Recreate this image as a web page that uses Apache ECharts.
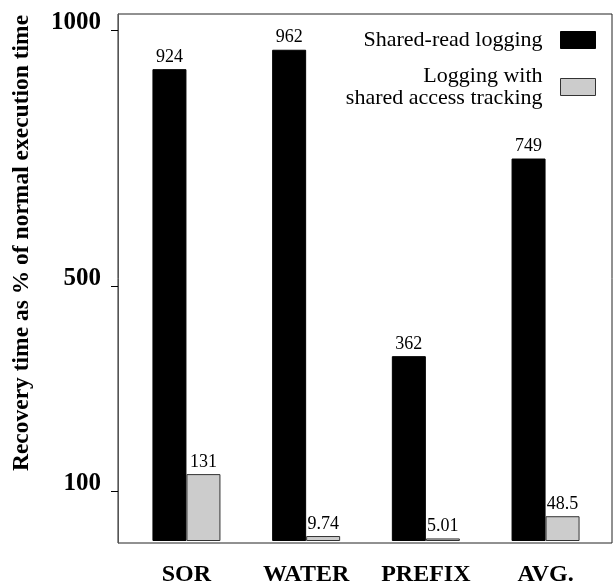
<!DOCTYPE html>
<html>
<head>
<meta charset="utf-8">
<script src="https://cdn.jsdelivr.net/npm/echarts@6/dist/echarts.min.js"></script>
<style>html,body{margin:0;padding:0;background:#fff;}#c{width:614px;height:587px;}</style>
</head>
<body>
<div id="c"></div>
<script>
var categories = ['SOR', 'WATER', 'PREFIX', 'AVG.'];
var seriesNames = ['Shared-read logging', 'Logging with\nshared access tracking'];
var sharedRead = [924, 962, 362, 749];
var tracking = [131, 9.74, 5.01, 48.5];
var yTicks = [100, 500, 1000];
var yTitle = 'Recovery time as % of normal execution time';

var FONT = '"Liberation Serif", "Times New Roman", serif';
var chart = echarts.init(document.getElementById('c'), null, {renderer: 'canvas'});
var yMax = 1032;
chart.setOption({
  animation: false,
  backgroundColor: '#fff',
  grid: [
    {left: 118, right: 2, top: 14, bottom: 44, show: true, borderColor: '#222', borderWidth: 1, backgroundColor: 'transparent'},
    {left: 126.6, right: 8.6, top: 14, bottom: 44}
  ],
  xAxis: [
    {type: 'category', gridIndex: 0, data: categories, show: false},
    {type: 'category', gridIndex: 1, data: categories,
     axisLine: {show: false}, axisTick: {show: false},
     axisLabel: {margin: 22, fontFamily: FONT, fontWeight: 'bold', fontSize: 24, color: '#000'}}
  ],
  yAxis: [
    {type: 'value', gridIndex: 0, min: 0, max: yMax,
     axisLine: {show: true, lineStyle: {color: '#555', width: 1}},
     axisTick: {show: true, customValues: yTicks, length: 7, lineStyle: {color: '#000'}},
     axisLabel: {customValues: yTicks, margin: 17, fontFamily: FONT, fontWeight: 'bold', fontSize: 25, color: '#000',
                 verticalAlign: 'bottom', lineHeight: 16,
                 formatter: function (v) { return String(v); }},
     splitLine: {show: false}},
    {type: 'value', gridIndex: 1, min: 0, max: yMax, show: false, splitLine: {show: false}}
  ],
  legend: {
    orient: 'vertical', align: 'right', right: 18, top: 29, padding: 0,
    itemWidth: 35, itemHeight: 17, itemGap: 9, icon: 'rect',
    itemStyle: {borderWidth: 1},
    textStyle: {fontFamily: FONT, fontSize: 22, lineHeight: 22, color: '#000', padding: [0, 13, 0, 0]},
    data: [
      {name: seriesNames[0]},
      {name: seriesNames[1], textStyle: {padding: [0, 13, 10, 0]}}
    ]
  },
  graphic: [{
    type: 'text',
    rotation: Math.PI / 2,
    x: 22, y: 243,
    style: {text: yTitle, font: 'bold 23.5px ' + FONT, fill: '#000', align: 'center', verticalAlign: 'middle'}
  }],
  series: [
    {name: seriesNames[0], type: 'bar', xAxisIndex: 1, yAxisIndex: 1, data: sharedRead,
     barWidth: 34, barGap: '0%',
     itemStyle: {color: '#000', borderColor: '#000', borderWidth: 1},
     label: {show: true, position: 'top', distance: 3, fontFamily: FONT, fontSize: 18, color: '#000'}},
    {name: seriesNames[1], type: 'bar', xAxisIndex: 1, yAxisIndex: 1, data: tracking,
     barWidth: 34, barGap: '0%',
     itemStyle: {color: '#cccccc', borderColor: '#333', borderWidth: 1},
     label: {show: true, position: 'top', distance: 3, fontFamily: FONT, fontSize: 18, color: '#000'}}
  ]
});
</script>
</body>
</html>
